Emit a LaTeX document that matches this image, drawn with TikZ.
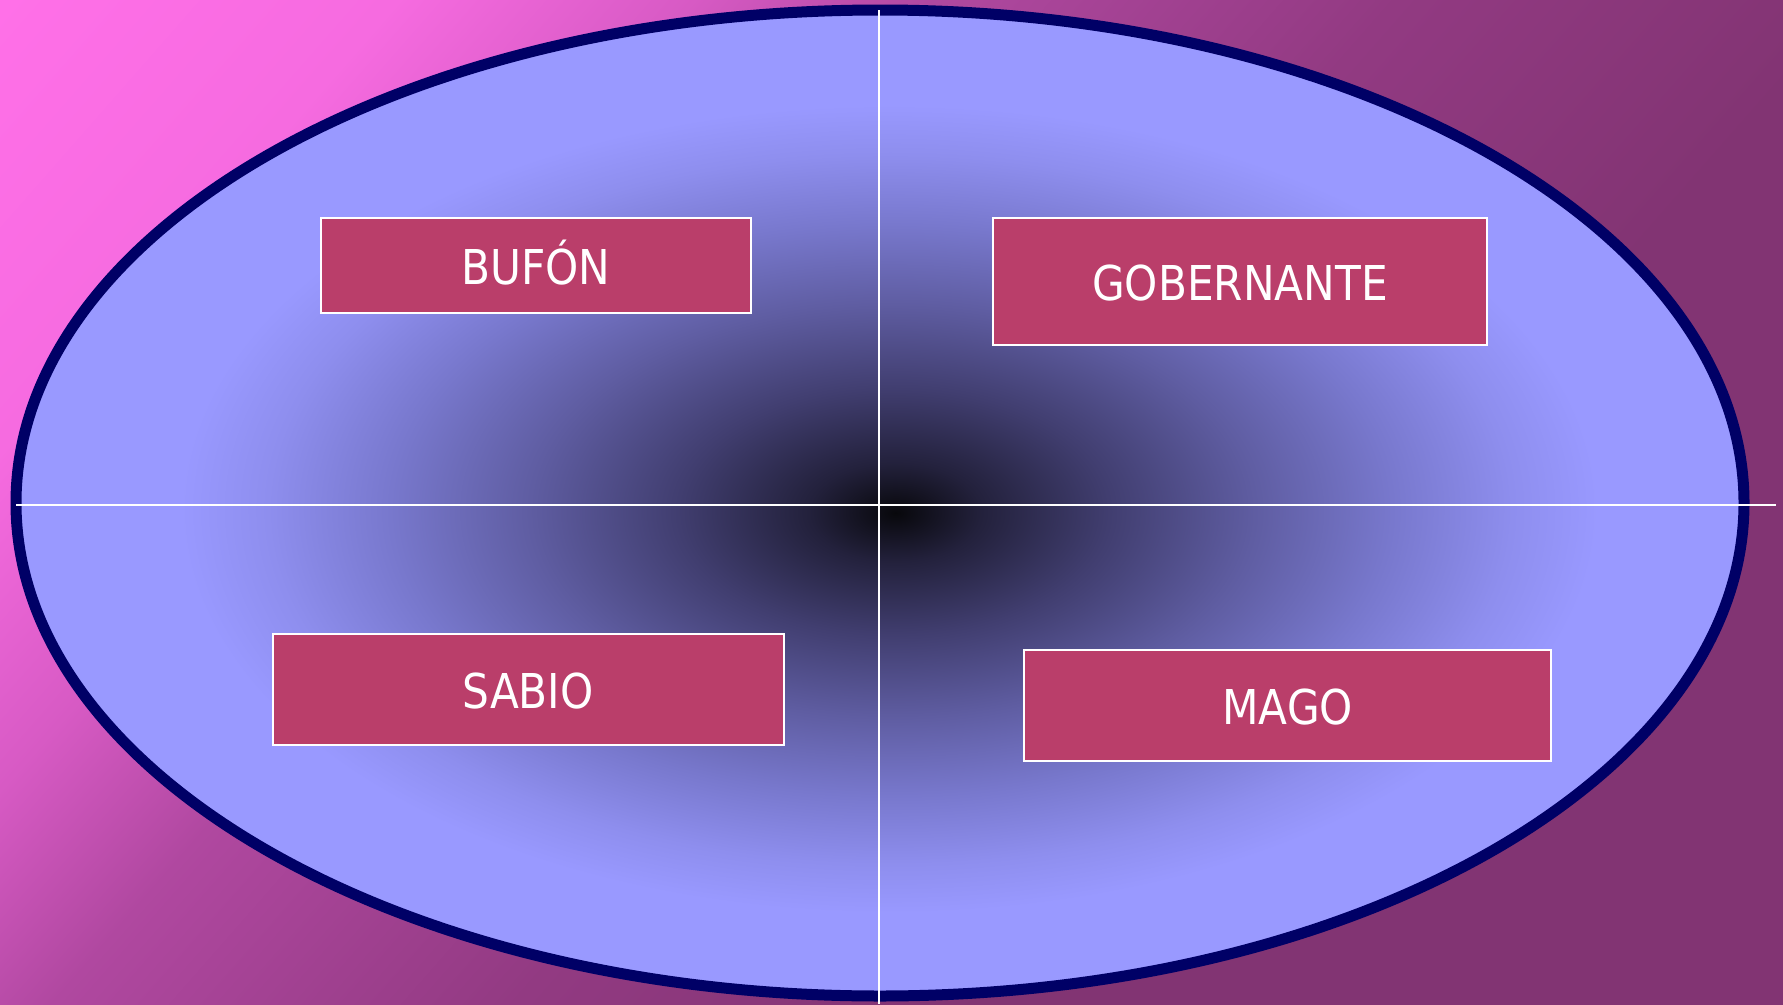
\documentclass[tikz,border=0pt]{standalone}
\usepackage{fontspec}
\newfontfamily\boxfont{DejaVu Sans}[FakeStretch=0.88]
\definecolor{bgA}{RGB}{255,112,232}
\definecolor{bgB}{RGB}{246,107,224}
\definecolor{bgC}{RGB}{215,90,196}
\definecolor{bgD}{RGB}{176,72,160}
\definecolor{bgE}{RGB}{146,58,130}
\definecolor{bgF}{RGB}{130,52,115}
\definecolor{e0}{RGB}{8,8,12}
\definecolor{e1}{RGB}{35,33,60}
\definecolor{e2}{RGB}{65,62,112}
\definecolor{e3}{RGB}{95,93,162}
\definecolor{e4}{RGB}{120,120,205}
\definecolor{e5}{RGB}{142,142,238}
\definecolor{e6}{RGB}{153,153,255}
\definecolor{navyring}{RGB}{0,0,102}
\definecolor{boxred}{RGB}{186,62,106}
\pgfdeclarehorizontalshading{bgshade}{100bp}{color(0bp)=(bgA); color(26.2bp)=(bgA); color(33.3bp)=(bgB); color(38.6bp)=(bgC); color(42.9bp)=(bgD); color(51.2bp)=(bgE); color(59.5bp)=(bgF); color(100bp)=(bgF)}
\pgfdeclareradialshading{ellshade}{\pgfpoint{0.45bp}{-0.5bp}}{color(0bp)=(e0); color(2.5bp)=(e1); color(6.25bp)=(e2); color(10.5bp)=(e3); color(14.5bp)=(e4); color(18bp)=(e5); color(20.5bp)=(e6); color(50bp)=(e6)}
\tikzset{
  rolebox/.style={draw=white, line width=2pt, fill=boxred, text=white,
    font=\boxfont\fontsize{48}{56}\selectfont, inner sep=0pt,
    text height=38.5pt, text depth=0pt, align=center},
  axisline/.style={draw=white, line width=1.8pt}
}
\begin{document}
\begin{tikzpicture}[x=1pt,y=-1pt]
\useasboundingbox (0,0) rectangle (1783,1004);
% background
\begin{scope}
\clip (0,0) rectangle (1783,1004);
\shade[shading=bgshade, transform canvas={rotate=-41.3}] (-50,-1600) rectangle (2050,1600);
\end{scope}
% ellipse
\shadedraw[shading=ellshade, draw=navyring, line width=11pt] (880,503) ellipse [x radius=864, y radius=493];
% axes
\coordinate (vtop) at (879,10);
\coordinate (vbot) at (879,1004);
\coordinate (hl) at (16,505);
\coordinate (hr) at (1776,505);
\draw[axisline] (vtop) -- (vbot);
\draw[axisline] (hl) -- (hr);
% boxes
\node[rolebox, minimum width=430pt, minimum height=95pt] (bufon) at (536,265.5) {BUFÓN};
\node[rolebox, minimum width=494.6pt, minimum height=126.7pt] (gobernante) at (1240,281.7) {GOBERNANTE};
\node[rolebox, minimum width=511pt, minimum height=110.7pt] (sabio) at (528.1,689.7) {SABIO};
\node[rolebox, minimum width=527pt, minimum height=110.4pt] (mago) at (1287.8,705.5) {MAGO};
\end{tikzpicture}
\end{document}
